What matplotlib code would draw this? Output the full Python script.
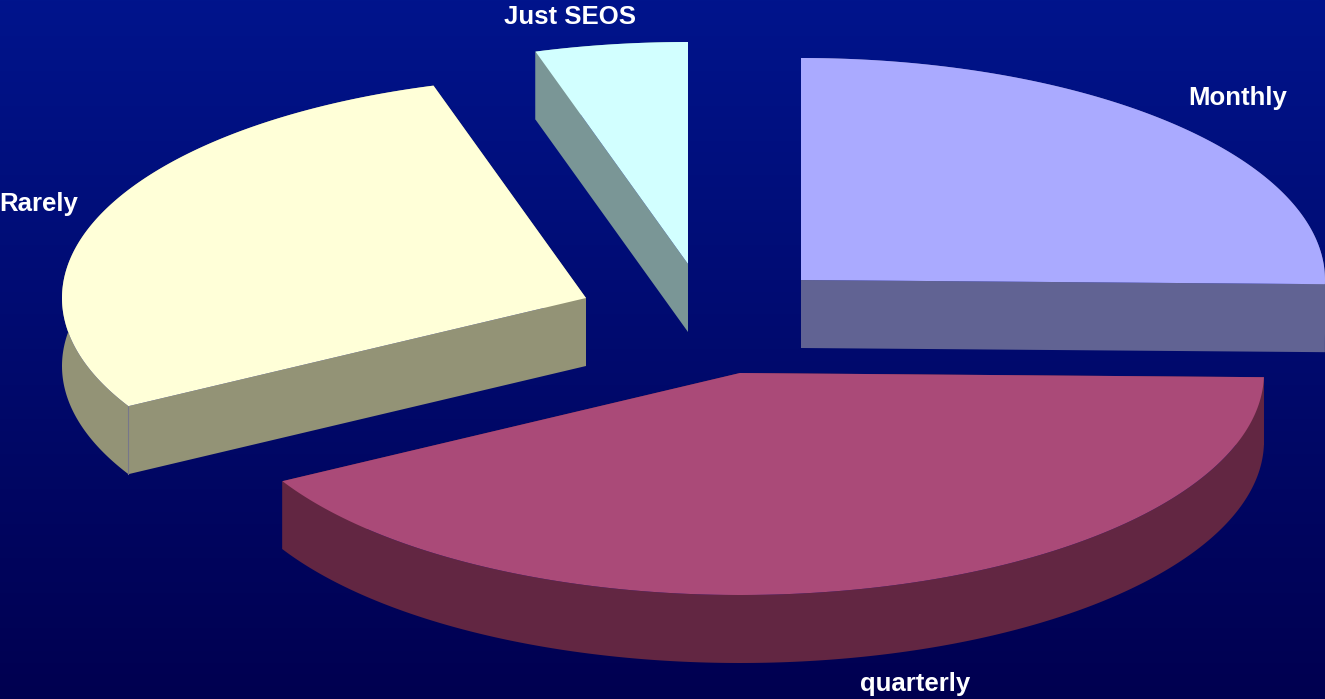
import numpy as np
import matplotlib.pyplot as plt
from matplotlib.colors import LinearSegmentedColormap

# shares, clockwise from 12 o'clock
labels = ["Monthly", "quarterly", "Rarely", "Just SEOS"]
shares = [25.3, 41.6, 28.4, 4.7]

top_colors = ["#AAAAFF", "#AA4A78", "#FFFFD8", "#D2FFFF"]
side_colors = ["#616393", "#622642", "#939376", "#7A9696"]

# layout in pixels
apex_x = [801, 740, 586, 688]
apex_y = [280, 373, 298, 264]
label_x = [1238, 915, 39, 570]
label_y = [98, 684, 204, 17]
RX = 524
RY = 222
DEPTH = 68

W, H = 1325, 699
plt.rcParams["font.family"] = ["Liberation Sans", "DejaVu Sans"]

fig = plt.figure(figsize=(W / 100, H / 100), dpi=100)
ax = fig.add_axes([0, 0, 1, 1])
ax.set_xlim(0, W)
ax.set_ylim(H, 0)
ax.axis("off")

# background gradient
bg = LinearSegmentedColormap.from_list("bg", ["#00148C", "#000050"])
ax.imshow(np.linspace(0, 1, 256).reshape(-1, 1), cmap=bg, aspect="auto",
          extent=[0, W, H, 0], zorder=0)

ends = 90 - np.cumsum([0] + shares) * 3.6
for i in range(len(shares)):
    t = np.radians(np.linspace(ends[i], ends[i + 1], 300))
    x = apex_x[i] + RX * np.cos(t)
    y = apex_y[i] - RY * np.sin(t)
    px = np.r_[apex_x[i], x]
    py = np.r_[apex_y[i], y]

    # side: rim and the two cut faces pushed down by the depth
    ax.fill(np.r_[x, x[::-1]], np.r_[y, y[::-1] + DEPTH],
            color=side_colors[i], lw=0, zorder=2)
    for k in (1, -1):
        ax.fill([apex_x[i], px[k], px[k], apex_x[i]],
                [apex_y[i], py[k], py[k] + DEPTH, apex_y[i] + DEPTH],
                color=side_colors[i], lw=0, zorder=2)
    ax.fill(px, py, color=top_colors[i], lw=0, zorder=3)

# thin edge at the front corner of Rarely
t = np.radians(ends[2])
cx = apex_x[2] + RX * np.cos(t)
cy = apex_y[2] - RY * np.sin(t)
ax.plot([cx, cx], [cy, cy + DEPTH], color="#77778A", lw=0.8, zorder=2.5)

for name, lx, ly in zip(labels, label_x, label_y):
    ax.text(lx, ly, name, color="white", fontsize=18.5, fontweight="bold",
            ha="center", va="center", zorder=4)

fig.savefig("out.png", dpi=100)
